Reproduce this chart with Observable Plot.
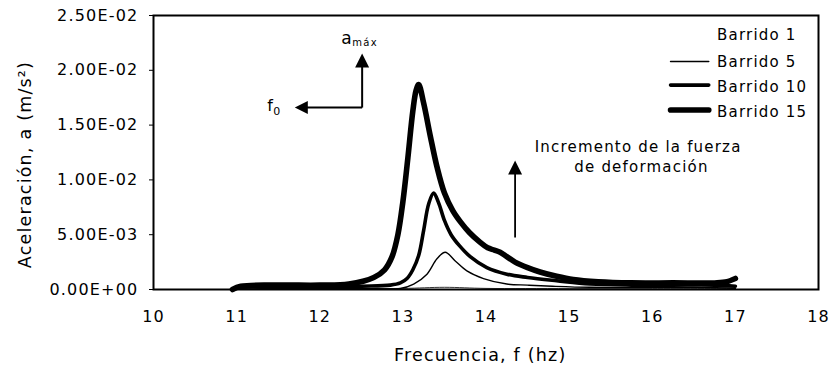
<!DOCTYPE html>
<html>
<head>
<meta charset="utf-8">
<script src="https://cdn.jsdelivr.net/npm/d3@7"></script>
<script src="https://cdn.jsdelivr.net/npm/@observablehq/plot@0.6"></script>
<style>
  html, body { margin: 0; padding: 0; background: #fff; }
  #chart svg text { letter-spacing: 1.2px; }
</style>
</head>
<body>
<div id="chart"></div>
<script>
// ---- data ----
const seriesNames = ["Barrido 1", "Barrido 5", "Barrido 10", "Barrido 15"];

const freq1 = [10.95, 12.0, 13.0, 13.5, 14.0, 15.0, 16.0, 17.0];
const acc1  = [0.0000, 0.0001, 0.0001, 0.0002, 0.0001, 0.0001, 0.0001, 0.0001];

const freq5 = [10.95, 11.5, 12.0, 12.5, 12.97, 13.13, 13.29, 13.41, 13.51, 13.63, 13.77, 13.97, 14.25, 14.5, 14.8, 15.25, 16.0, 16.5, 17.0];
const acc5  = [0.0000, 0.0001, 0.0001, 0.0001, 0.0001, 0.0005, 0.0014, 0.0028, 0.0034, 0.0026, 0.0017, 0.0010, 0.0005, 0.0004, 0.0003, 0.0002, 0.0002, 0.0002, 0.0001];

const freq10 = [10.95, 11.05, 11.5, 12.0, 12.5, 12.85, 12.97, 13.05, 13.12, 13.19, 13.25, 13.31, 13.37, 13.43, 13.5, 13.58, 13.68, 13.81, 14.01, 14.25, 14.5, 14.85, 15.25, 15.75, 16.25, 16.75, 17.0];
const acc10  = [0.0000, 0.0002, 0.0002, 0.0002, 0.0003, 0.0004, 0.0006, 0.0010, 0.0018, 0.0031, 0.0054, 0.0078, 0.0088, 0.0079, 0.0063, 0.0050, 0.0040, 0.0030, 0.0020, 0.0014, 0.0011, 0.0008, 0.0005, 0.0004, 0.0004, 0.0004, 0.0003];

const freq15 = [10.95, 11.05, 11.5, 12.0, 12.35, 12.65, 12.78, 12.87, 12.94, 13.0, 13.06, 13.12, 13.16, 13.19, 13.25, 13.33, 13.41, 13.5, 13.6, 13.7, 13.8, 13.93, 14.02, 14.1, 14.17, 14.25, 14.35, 14.5, 14.65, 14.85, 15.05, 15.35, 15.75, 16.25, 16.75, 16.9, 17.0];
const acc15  = [0.0000, 0.0003, 0.0004, 0.0004, 0.0005, 0.0011, 0.0018, 0.0030, 0.0050, 0.0080, 0.0120, 0.0163, 0.0182, 0.0187, 0.0170, 0.0140, 0.0112, 0.0088, 0.0072, 0.0061, 0.0052, 0.0043, 0.0038, 0.0036, 0.0034, 0.0030, 0.0025, 0.0020, 0.0016, 0.0012, 0.0009, 0.0007, 0.0006, 0.0006, 0.0006, 0.0007, 0.0010];

const xTicks = [10, 11, 12, 13, 14, 15, 16, 17, 18];
const yTicks = [0, 0.005, 0.01, 0.015, 0.02, 0.025];
const yTickLabels = ["0.00E+00", "5.00E-03", "1.00E-02", "1.50E-02", "2.00E-02", "2.50E-02"];

// ---- styles / layout ----
const lineWidths = [0.8, 1.4, 3.6, 5.6];
const legendSample = [false, true, true, true];
const legendTextY = [0.02318, 0.02071, 0.01843, 0.01615];
const legendLineY = [0.0209, 0.0208, 0.01865, 0.01638];

const series = [
  {name: seriesNames[0], freq: freq1, acc: acc1},
  {name: seriesNames[1], freq: freq5, acc: acc5},
  {name: seriesNames[2], freq: freq10, acc: acc10},
  {name: seriesNames[3], freq: freq15, acc: acc15}
];

// filled triangle arrowheads with the tip at the anchor point
const triUp = {draw(ctx, size) { const r = Math.sqrt(size / Math.PI); ctx.moveTo(0, 0); ctx.lineTo(-r, 2 * r); ctx.lineTo(r, 2 * r); ctx.closePath(); }};
const triLeft = {draw(ctx, size) { const r = Math.sqrt(size / Math.PI); ctx.moveTo(0, 0); ctx.lineTo(2 * r, -r); ctx.lineTo(2 * r, r); ctx.closePath(); }};

const font = "'DejaVu Sans', sans-serif";

const marks = [];
series.forEach((s, i) => {
  const rows = s.freq.map((f, j) => ({f, a: s.acc[j]}));
  marks.push(Plot.line(rows, {x: "f", y: "a", stroke: "#000", strokeWidth: lineWidths[i], curve: "catmull-rom", strokeLinejoin: "round", strokeLinecap: "round"}));
});
marks.push(Plot.frame({stroke: "#000", strokeWidth: 2}));

// legend
series.forEach((s, i) => {
  marks.push(Plot.text([s.name], {x: 16.78, y: legendTextY[i], text: d => d, textAnchor: "start", fontSize: 15, fill: "#000"}));
  if (legendSample[i]) {
    marks.push(Plot.link([s.name], {x1: 16.22, x2: 16.68, y1: legendLineY[i], y2: legendLineY[i], stroke: "#000", strokeWidth: lineWidths[i], strokeLinecap: "round"}));
  }
});

// a_max / f0 annotation
marks.push(Plot.link([0], {x1: 12.51, x2: 12.51, y1: 0.0166, y2: 0.0205, stroke: "#000", strokeWidth: 2}));
marks.push(Plot.link([0], {x1: 12.51, x2: 11.80, y1: 0.0166, y2: 0.0166, stroke: "#000", strokeWidth: 2}));
marks.push(Plot.dot([0], {x: 12.51, y: 0.02153, symbol: triUp, r: 7, fill: "#000", stroke: null}));
marks.push(Plot.dot([0], {x: 11.70, y: 0.0166, symbol: triLeft, r: 6.5, fill: "#000", stroke: null}));
marks.push(Plot.text(["a"], {x: 12.33, y: 0.0229, text: d => d, fontSize: 17, fill: "#000"}));
marks.push(Plot.text(["máx"], {x: 12.545, y: 0.0225, text: d => d, fontSize: 10, fill: "#000"}));
marks.push(Plot.text(["f"], {x: 11.41, y: 0.01679, text: d => d, fontSize: 16, fill: "#000"}));
marks.push(Plot.text(["0"], {x: 11.49, y: 0.0162, text: d => d, fontSize: 11, fill: "#000"}));

// increasing force annotation
marks.push(Plot.link([0], {x1: 14.35, x2: 14.35, y1: 0.00474, y2: 0.0107, stroke: "#000", strokeWidth: 1.8}));
marks.push(Plot.dot([0], {x: 14.35, y: 0.01177, symbol: triUp, r: 7, fill: "#000", stroke: null}));
marks.push(Plot.text(["Incremento de la fuerza"], {x: 15.83, y: 0.01296, text: d => d, fontSize: 15, fill: "#000"}));
marks.push(Plot.text(["de deformación"], {x: 15.87, y: 0.01113, text: d => d, fontSize: 15, fill: "#000"}));

// axis titles
marks.push(Plot.text(["Frecuencia, f (hz)"], {x: 13.93, frameAnchor: "bottom", dy: 71, text: d => d, fontSize: 17.5, fill: "#000"}));
marks.push(Plot.text(["Aceleración, a (m/s²)"], {y: 0.0114, frameAnchor: "left", textAnchor: "middle", dx: -128, rotate: -90, text: d => d, fontSize: 17.5, fill: "#000"}));

const chart = Plot.plot({
  width: 837,
  height: 371,
  marginLeft: 153,
  marginRight: 19,
  marginTop: 15,
  marginBottom: 82,
  style: {fontFamily: font, fontSize: "16px", color: "#000", background: "#fff", overflow: "visible"},
  x: {domain: [10, 18], ticks: xTicks, tickSize: 0, tickPadding: 21, tickFormat: d => String(d), label: null},
  y: {domain: [0, 0.025], ticks: yTicks, tickSize: 4, tickPadding: 11, tickFormat: v => yTickLabels[Math.round(v / 0.005)], label: null},
  marks
});
document.getElementById("chart").appendChild(chart);
</script>
</body>
</html>
